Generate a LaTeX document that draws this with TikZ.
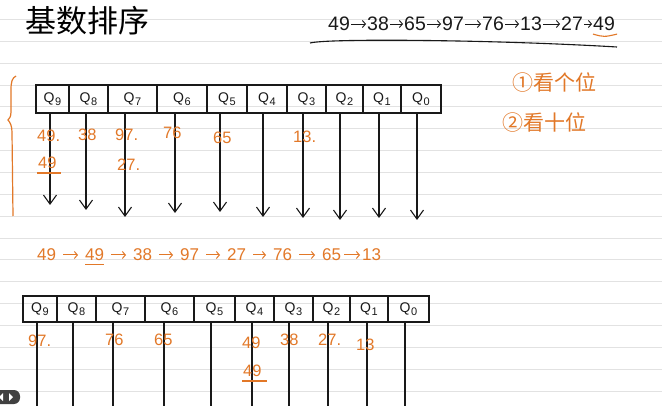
\documentclass[tikz,border=0pt]{standalone}
\usepackage{fontspec}
\setmainfont{Liberation Sans}
\newfontfamily\cjk{Noto Sans CJK SC}
\usetikzlibrary{arrows.meta}
\definecolor{pen}{RGB}{226,120,40}
\definecolor{ink}{RGB}{25,25,25}
\definecolor{rulecol}{RGB}{226,226,226}
\newcommand{\qq}[1]{Q\kern0.5pt\raisebox{-2.5pt}{\fontsize{11}{11}\selectfont #1}}
\tikzset{
 cell/.style={draw=ink, line width=1.3pt, inner sep=0pt, font=\fontsize{14}{14}\selectfont, text=ink},
 drop/.style={draw=ink, line width=1.1pt, -{Straight Barb[length=9pt,width=13pt,line width=1.1pt]}},
 stem/.style={draw=ink, line width=1.1pt},
 num/.style={text=pen, font=\fontsize{16.5}{16.5}\selectfont, inner sep=0pt, anchor=west},
 seq/.style={text=ink, font=\fontsize{19.5}{19.5}\selectfont, inner sep=0pt, anchor=west},
 seqarr/.style={draw=ink, line width=0.9pt, -{Straight Barb[length=3pt,width=7pt]}, shorten <=1pt, shorten >=1pt},
 mseq/.style={text=pen, font=\fontsize{17}{17}\selectfont, inner sep=0pt, anchor=west},
 marr/.style={draw=pen, line width=1pt, -{Straight Barb[length=3pt,width=7pt]}, shorten <=7pt, shorten >=7pt},
 uline/.style={draw=pen, line width=1.1pt},
 note/.style={text=pen, font=\cjk\fontsize{21}{21}\selectfont, inner sep=0pt, anchor=west},
}
\begin{document}
\begin{tikzpicture}[x=1pt,y=-1pt]
\useasboundingbox[fill=white] (0,0) rectangle (662,406);
\foreach \k in {0,...,17} \draw[rulecol, line width=0.8pt] (0,{19.5+21.85*\k}) -- (662,{19.5+21.85*\k});

% title
\node[anchor=west, font=\cjk\fontsize{31}{31}\selectfont, text=black, inner sep=0pt] (title) at (25,21) {基数排序};

% top sequence
\foreach \i/\x/\v in {1/328/49, 2/367/38, 3/404/65, 4/442/97, 5/482/76, 6/520/13, 7/561/27, 8/593/49}
  \node[seq] (s\i) at (\x,24) {\v};
\foreach \a/\b in {1/2,2/3,3/4,4/5,5/6,6/7,7/8}
  \draw[seqarr] (s\a) -- (s\b);
\draw[uline] ([yshift=-3pt]s8.south west) .. controls ([yshift=-6pt]s8.south) .. ([yshift=-3pt,xshift=2pt]s8.south east);
\coordinate (ul1) at (310,43);
\coordinate (ul2) at (617,47);
\draw[ink, line width=1.1pt] (ul1) .. controls (330,38) and (500,40) .. (ul2);

% notes on the right
\node[note] (n1) at (512,83) {①看个位};
\node[note] (n2) at (502,123) {②看十位};

% brace
\draw[pen, line width=1.2pt] (16,76) .. controls (12,78) and (11,82) .. (11,90) -- (11,112)
  .. controls (11,117) and (9,119) .. (8,120) .. controls (10,122) and (12,126) .. (12,132) -- (13,216);

% top table
\foreach \n/\c/\w in {9/52.5/33, 8/88.5/39, 7/132.5/49, 6/182/50, 5/227/40, 4/267/40, 3/306.5/39, 2/344.5/37, 1/382/38, 0/421/40}
  \node[cell, minimum width=\w pt, minimum height=28pt] (t\n) at (\c,99) {\qq{\n}};
\foreach \n/\x/\e in {9/50/205, 8/86/210, 7/125/217, 6/175/213, 5/220/212, 4/263/217, 3/303/218, 2/340/220, 1/379/218, 0/417/220}
  {\coordinate (te\n) at (\x,\e); \draw[drop] (t\n.south -| te\n) -- (te\n);}

% first pass numbers
\node[num] (a1) at (37,136) {49.};
\node[num] (a2) at (78,135) {38};
\node[num] (a3) at (115,135) {97.};
\node[num] (a4) at (163,133) {76};
\node[num] (a5) at (213,138) {65};
\node[num] (a6) at (293,137) {13.};
\node[num] (a7) at (38,163) {49};
\draw[uline] ([yshift=-4pt,xshift=-1pt]a7.south west) -- ([yshift=-4pt,xshift=4pt]a7.south east);
\node[num] (a8) at (117,165) {27.};

% middle sequence
\foreach \i/\x/\v in {1/37/49, 2/85/49, 3/133/38, 4/180/97, 5/227/27, 6/273/76, 7/322/65, 8/362/13}
  \node[mseq] (m\i) at (\x,255) {\v};
\foreach \a/\b in {1/2,2/3,3/4,4/5,5/6,6/7}
  \draw[marr] (m\a) -- (m\b);
\draw[marr, shorten <=3pt, shorten >=2pt] (m7) -- (m8);
\draw[uline] ([yshift=-3pt]m2.south west) -- ([yshift=-3pt]m2.south east);

% bottom table
\foreach \n/\c/\w in {9/40/34, 8/76.5/39, 7/120.5/49, 6/169.5/49, 5/214.5/41, 4/254.5/39, 3/293.5/39, 2/331.5/37, 1/369/38, 0/408.5/41}
  \node[cell, minimum width=\w pt, minimum height=26pt] (b\n) at (\c,309) {\qq{\n}};
\foreach \n/\x in {9/37, 8/73, 7/113, 6/164, 5/211, 4/252, 3/289, 2/328, 1/367, 0/405}
  {\coordinate (be\n) at (\x,406); \draw[stem] (b\n.south -| be\n) -- (be\n);}

% second pass numbers
\node[num] (c1) at (28,341) {97.};
\node[num] (c2) at (105,340) {76};
\node[num] (c3) at (154,340) {65};
\node[num] (c4) at (242,343) {49};
\node[num] (c5) at (280,340) {38};
\node[num] (c6) at (318,340) {27.};
\node[num] (c7) at (356,345) {13};
\node[num] (c8) at (243,371) {49};
\draw[uline] ([yshift=-4pt,xshift=-1pt]c8.south west) -- ([yshift=-4pt,xshift=5pt]c8.south east);

% video control
\fill[black!75, rounded corners=6pt] (-8,390) rectangle (20,404);
\fill[white] (3,393) -- (3,401) -- (-1,397) -- cycle;
\fill[white] (9,393) -- (9,401) -- (13,397) -- cycle;
\end{tikzpicture}
\end{document}
